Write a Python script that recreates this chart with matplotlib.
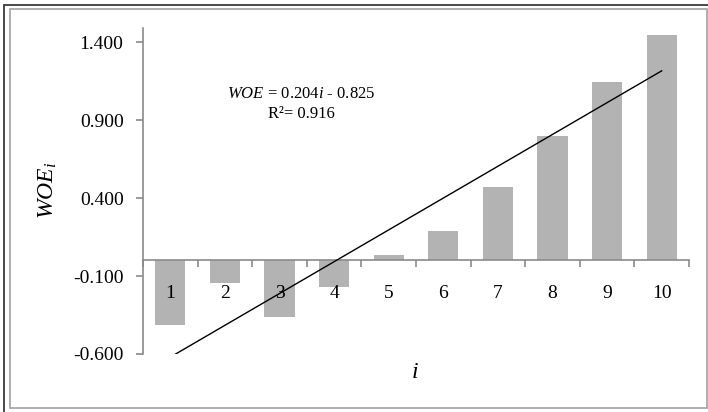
import numpy as np
import matplotlib
matplotlib.use("Agg")
import matplotlib.pyplot as plt
from matplotlib.patches import Rectangle

categories = [1, 2, 3, 4, 5, 6, 7, 8, 9, 10]
woe = [-0.417, -0.147, -0.365, -0.170, 0.037, 0.186, 0.470, 0.795, 1.146, 1.442]
ytick_vals = [-0.6, -0.1, 0.4, 0.9, 1.4]
ytick_labels = ["-0.600", "-0.100", "0.400", "0.900", "1.400"]
eq_text = r"$\mathit{WOE}$ = 0.204$\mathit{i}$ - 0.825"
r2_text = "R\u00b2= 0.916"

plt.rcParams['font.family'] = ['Liberation Serif', 'DejaVu Serif']
plt.rcParams['mathtext.fontset'] = 'custom'
plt.rcParams['mathtext.rm'] = 'Liberation Serif'
plt.rcParams['mathtext.it'] = 'Liberation Serif:italic'

W, H = 708, 412
fig = plt.figure(figsize=(W / 100, H / 100), dpi=100)

# frame borders
fig.patches.append(Rectangle((4 / W, -10 / H), 720 / W, (H - 5 + 10) / H, transform=fig.transFigure,
                             fill=False, edgecolor='#3a3a3a', linewidth=1.3))
fig.patches.append(Rectangle((9.5 / W, (H - 408) / H), (707 - 9.5) / W, (408 - 9) / H, transform=fig.transFigure,
                             fill=False, edgecolor='#a8a8a8', linewidth=1.3))

ax = fig.add_axes([143 / W, (H - 354) / H, (689 - 143) / W, (354 - 28) / H])
ax.patch.set_alpha(0)
ax.set_axisbelow(False)

x = np.array(categories, dtype=float)
y = np.array(woe)
ax.bar(x, y, width=0.55, color='#b3b3b3', zorder=2)

coef = np.polyfit(x, y, 1)
xl = np.array([x[0], x[-1]])
ax.plot(xl, np.polyval(coef, xl), color='black', linewidth=1.0, zorder=3)

ax.set_xlim(0.5, 10.5)
ax.set_ylim(-0.6, 1.49)

spine_col = '#8a8a8a'
for s in ['top', 'right']:
    ax.spines[s].set_visible(False)
ax.spines['left'].set_color(spine_col)
ax.spines['left'].set_bounds(-0.6, 1.49)
ax.spines['bottom'].set_color(spine_col)
ax.spines['bottom'].set_position(('data', 0))
ax.spines['left'].set_linewidth(1.2)
ax.spines['bottom'].set_linewidth(1.2)

ax.set_yticks(ytick_vals)
ax.set_yticklabels(ytick_labels)
ax.tick_params(axis='y', length=5, width=1.2, color=spine_col, pad=9, labelsize=14)

ax.set_xticks(x)
ax.set_xticklabels([str(c) for c in categories])
ax.set_xticks(np.arange(0.5, 11, 1.0), minor=True)
ax.tick_params(axis='x', which='major', length=0, pad=18, labelsize=14)
ax.tick_params(axis='x', which='minor', length=5, width=1.2, color=spine_col)

fig.text(48 / W, 1 - 190 / H, r"$WOE_i$", rotation=90, ha='center', va='center', fontsize=17)
fig.text(415 / W, 1 - 373 / H, r"$i$", ha='center', va='center', fontsize=17)

fig.text(301 / W, 1 - 94 / H, eq_text, ha='center', va='center', fontsize=12)
fig.text(301 / W, 1 - 114 / H, r2_text, ha='center', va='center', fontsize=12)

fig.savefig('out.png', dpi=100)
